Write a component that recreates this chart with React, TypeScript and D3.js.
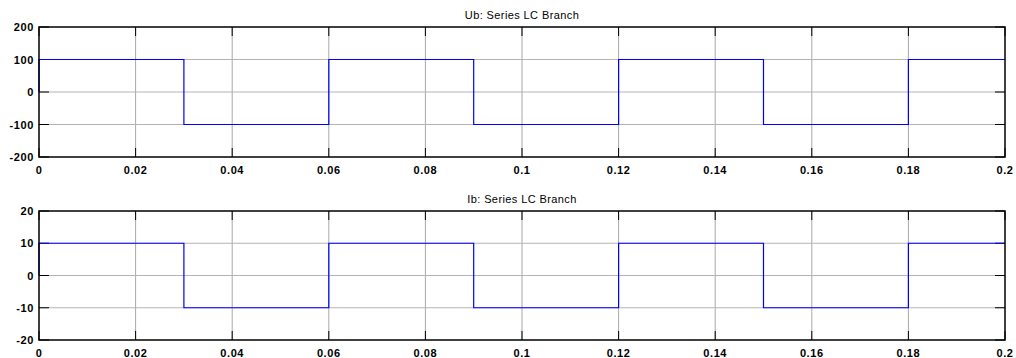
import React, { useEffect, useRef } from "react";
import * as d3 from "d3";

const width = 1016;
const height = 358;

// switching instants of the square wave (s) and the level held after each
const switchTimes = [0, 0.03, 0.06, 0.09, 0.12, 0.15, 0.18, 0.2];
const ubLevels = [100, -100, 100, -100, 100, -100, 100];
const ibLevels = [10, -10, 10, -10, 10, -10, 10];

const xTicks = [0, 0.02, 0.04, 0.06, 0.08, 0.1, 0.12, 0.14, 0.16, 0.18, 0.2];
const ubTicks = [-200, -100, 0, 100, 200];
const ibTicks = [-20, -10, 0, 10, 20];

const panels = [
  { title: "Ub: Series LC Branch", levels: ubLevels, ticks: ubTicks, top: 27, bottom: 157 },
  { title: "Ib: Series LC Branch", levels: ibLevels, ticks: ibTicks, top: 211, bottom: 340 },
];

const left = 39;
const right = 1005;

const App = () => {
  const ref = useRef(null);

  const chart = () => {
    const svg = d3.select(ref.current);
    svg.selectAll("*").remove();
    svg.append("rect").attr("width", width).attr("height", height).attr("fill", "#fff");

    const x = d3.scaleLinear().domain([0, 0.2]).range([left, right]);

    panels.forEach((p) => {
      const ext = d3.extent(p.ticks) as [number, number];
      const y = d3.scaleLinear().domain(ext).range([p.bottom, p.top]);
      const g = svg.append("g");

      // grid
      g.append("g")
        .selectAll("line")
        .data(xTicks.slice(1, -1))
        .join("line")
        .attr("x1", (d) => x(d))
        .attr("x2", (d) => x(d))
        .attr("y1", p.top)
        .attr("y2", p.bottom)
        .attr("stroke", "#a8a8a8")
        .attr("stroke-width", 1);
      g.append("g")
        .selectAll("line")
        .data(p.ticks.slice(1, -1))
        .join("line")
        .attr("x1", left)
        .attr("x2", right)
        .attr("y1", (d) => y(d))
        .attr("y2", (d) => y(d))
        .attr("stroke", "#b4b4b4")
        .attr("stroke-width", 1);

      // ticks inside the box, all four sides
      const tk = g.append("g").attr("stroke", "#000").attr("stroke-width", 1);
      xTicks.forEach((t) => {
        tk.append("line").attr("x1", x(t)).attr("x2", x(t)).attr("y1", p.bottom).attr("y2", p.bottom - 9);
        tk.append("line").attr("x1", x(t)).attr("x2", x(t)).attr("y1", p.top).attr("y2", p.top + 9);
      });
      p.ticks.forEach((t) => {
        tk.append("line").attr("x1", left).attr("x2", left + 10).attr("y1", y(t)).attr("y2", y(t));
        tk.append("line").attr("x1", right).attr("x2", right - 10).attr("y1", y(t)).attr("y2", y(t));
      });

      // signal
      const pts: [number, number][] = [[0, 0]];
      p.levels.forEach((v, i) => {
        pts.push([switchTimes[i], v]);
        pts.push([switchTimes[i + 1], v]);
      });
      g.append("path")
        .datum(pts)
        .attr("fill", "none")
        .attr("stroke", "#0000ff")
        .attr("stroke-width", 1.2)
        .attr("d", d3.line().x((d) => x(d[0])).y((d) => y(d[1])));

      // box
      g.append("rect")
        .attr("x", left)
        .attr("y", p.top)
        .attr("width", right - left)
        .attr("height", p.bottom - p.top)
        .attr("fill", "none")
        .attr("stroke", "#000")
        .attr("stroke-width", 1.5);

      // labels
      const lab = g.append("g")
        .attr("font-family", "'Liberation Sans', Arial, sans-serif")
        .attr("font-size", 11)
        .attr("font-weight", "bold")
        .attr("fill", "#000");
      lab.selectAll(".xl")
        .data(xTicks)
        .join("text")
        .attr("x", (d) => x(d))
        .attr("y", p.bottom + 17)
        .attr("text-anchor", "middle")
        .attr("letter-spacing", 0.6)
        .text((d) => String(d));
      lab.selectAll(".yl")
        .data(p.ticks)
        .join("text")
        .attr("class", "yl")
        .attr("x", left - 5)
        .attr("y", (d) => y(d) + 4)
        .attr("text-anchor", "end")
        .attr("letter-spacing", 0.6)
        .text((d) => String(d));

      g.append("text")
        .attr("x", (left + right) / 2)
        .attr("y", p.top - 8)
        .attr("text-anchor", "middle")
        .attr("font-family", "'Liberation Sans', Arial, sans-serif")
        .attr("font-size", 11)
        .attr("letter-spacing", 0.4)
        .attr("fill", "#000")
        .text(p.title);
    });
  };

  useEffect(() => {
    chart();
  }, []);

  return (
    <svg
      ref={ref}
      width={width}
      height={height}
      style={{ position: "absolute", left: 0, top: 0, display: "block" }}
    />
  );
};

export default App;
